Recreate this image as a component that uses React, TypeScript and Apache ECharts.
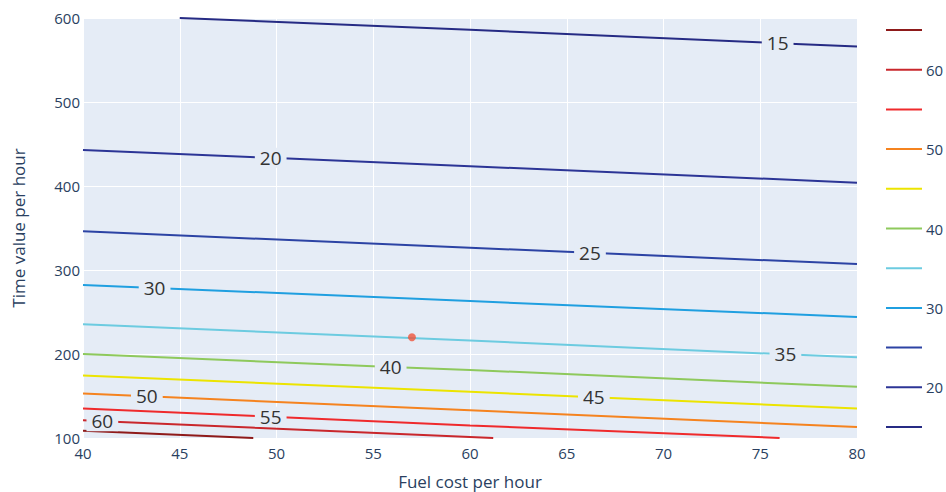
import React, { useEffect, useRef } from "react";
import * as echarts from "echarts";

const levels = [15, 20, 25, 30, 35, 40, 45, 50, 55, 60, 65];
const levelColors = [
  "#262b84", "#2c3596", "#2c43a4", "#1f9fe0", "#6ccbe0", "#8ec95c",
  "#ece400", "#f5831f", "#ef2a2c", "#c9272c", "#8e1a1a",
];

const contour15 = [[45, 600], [60, 586], [80, 566]];
const contour20 = [[40, 443], [60, 423.5], [80, 404]];
const contour25 = [[40, 346], [60, 326.5], [80, 307]];
const contour30 = [[40, 282], [60, 263], [80, 244]];
const contour35 = [[40, 235.5], [60, 216], [80, 196]];
const contour40 = [[40, 200], [60, 181], [80, 161]];
const contour45 = [[40, 174.5], [60, 155], [80, 135]];
const contour50 = [[40, 153], [60, 133], [80, 113]];
const contour55 = [[40, 135], [60, 115], [76, 100]];
const contour60 = [[40, 121], [61.2, 100]];
const contour65 = [[40, 108.5], [48.8, 100]];
const contours = [
  contour15, contour20, contour25, contour30, contour35, contour40,
  contour45, contour50, contour55, contour60, contour65,
];

// label positions on each contour (null = no label)
const labelPoints = [
  [75.9, 570], [49.7, 433.5], [66.2, 320.5], [43.7, 278.6], [76.3, 199.6],
  [55.9, 184.5], [66.4, 148.4], [43.3, 149.7], [49.7, 125.3], [41, 120], null,
];

const marker = [[57, 220]];

const xTicks = { min: 40, max: 80, interval: 5 };
const yTicks = { min: 100, max: 600, interval: 100 };

const legendLabelled = [20, 30, 40, 50, 60];

const FONT = "'Open Sans', verdana, arial, sans-serif";
const TXT = "#2a3f5f";
const BG = "#E5ECF6";

export default function App() {
  const ref = useRef<HTMLDivElement>(null);
  useEffect(() => {
    document.body.style.margin = "0";
    const chart = echarts.init(ref.current!, null, { renderer: "svg" });

    const series: any[] = contours.map((pts, i) => {
      const lp = labelPoints[i];
      const data: any[] = pts.map((p) => ({ value: p }));
      if (lp) {
        data.push({
          value: lp,
          label: {
            show: true,
            position: "inside",
            formatter: String(levels[i]),
            fontSize: 19,
            fontFamily: FONT,
            color: "#333333",
            backgroundColor: BG,
            padding: [0, 5, 0, 5],
            lineHeight: 20,
          },
        });
        data.sort((a, b) => a.value[0] - b.value[0]);
      }
      return {
        type: "line",
        data,
        showSymbol: true,
        symbol: "circle",
        symbolSize: 0,
        lineStyle: { color: levelColors[i], width: 2 },
        itemStyle: { color: levelColors[i] },
        label: { show: false },
        emphasis: { disabled: true },
        silent: true,
        z: 3,
      };
    });

    series.push({
      type: "scatter",
      data: marker,
      symbolSize: 8,
      itemStyle: { color: "#EF553B" },
      z: 5,
    });

    const legendTop = 30;
    const legendStep = 39.7;
    const graphics: any[] = [];
    const rev = levels.slice().reverse();
    const revColors = levelColors.slice().reverse();
    rev.forEach((lv, i) => {
      const y = legendTop + i * legendStep;
      graphics.push({
        type: "line",
        shape: { x1: 886, y1: y, x2: 922, y2: y },
        style: { stroke: revColors[i], lineWidth: 2 },
      });
      if (legendLabelled.includes(lv)) {
        graphics.push({
          type: "text",
          x: 926,
          y: y,
          style: {
            text: String(lv),
            fill: TXT,
            font: `15px ${FONT}`,
            textVerticalAlign: "middle",
            verticalAlign: "middle",
          },
        });
      }
    });

    chart.setOption({
      animation: false,
      backgroundColor: "#fff",
      textStyle: { fontFamily: FONT },
      grid: {
        left: 83,
        right: 89,
        top: 18,
        bottom: 54,
        show: true,
        backgroundColor: BG,
        borderWidth: 0,
        containLabel: false,
        outerBoundsMode: "none",
      },
      xAxis: {
        type: "value",
        ...xTicks,
        name: "Fuel cost per hour",
        nameLocation: "middle",
        nameGap: 35,
        nameTextStyle: { color: TXT, fontSize: 17, lineHeight: 17, fontFamily: FONT },
        axisLine: { show: false },
        axisTick: { show: false },
        axisLabel: { color: TXT, fontSize: 15, margin: 7, fontFamily: FONT },
        splitLine: { show: true, lineStyle: { color: "#fff", width: 1 } },
      },
      yAxis: {
        type: "value",
        ...yTicks,
        name: "Time value per hour",
        nameLocation: "middle",
        nameGap: 56,
        nameTextStyle: { color: TXT, fontSize: 17, fontFamily: FONT },
        axisLine: { show: false },
        axisTick: { show: false },
        axisLabel: { color: TXT, fontSize: 15, margin: 3, fontFamily: FONT },
        splitLine: { show: true, lineStyle: { color: "#fff", width: 1 } },
      },
      graphic: graphics,
      series,
    });
    return () => chart.dispose();
  }, []);
  return <div ref={ref} style={{ width: 946, height: 492 }} />;
}
